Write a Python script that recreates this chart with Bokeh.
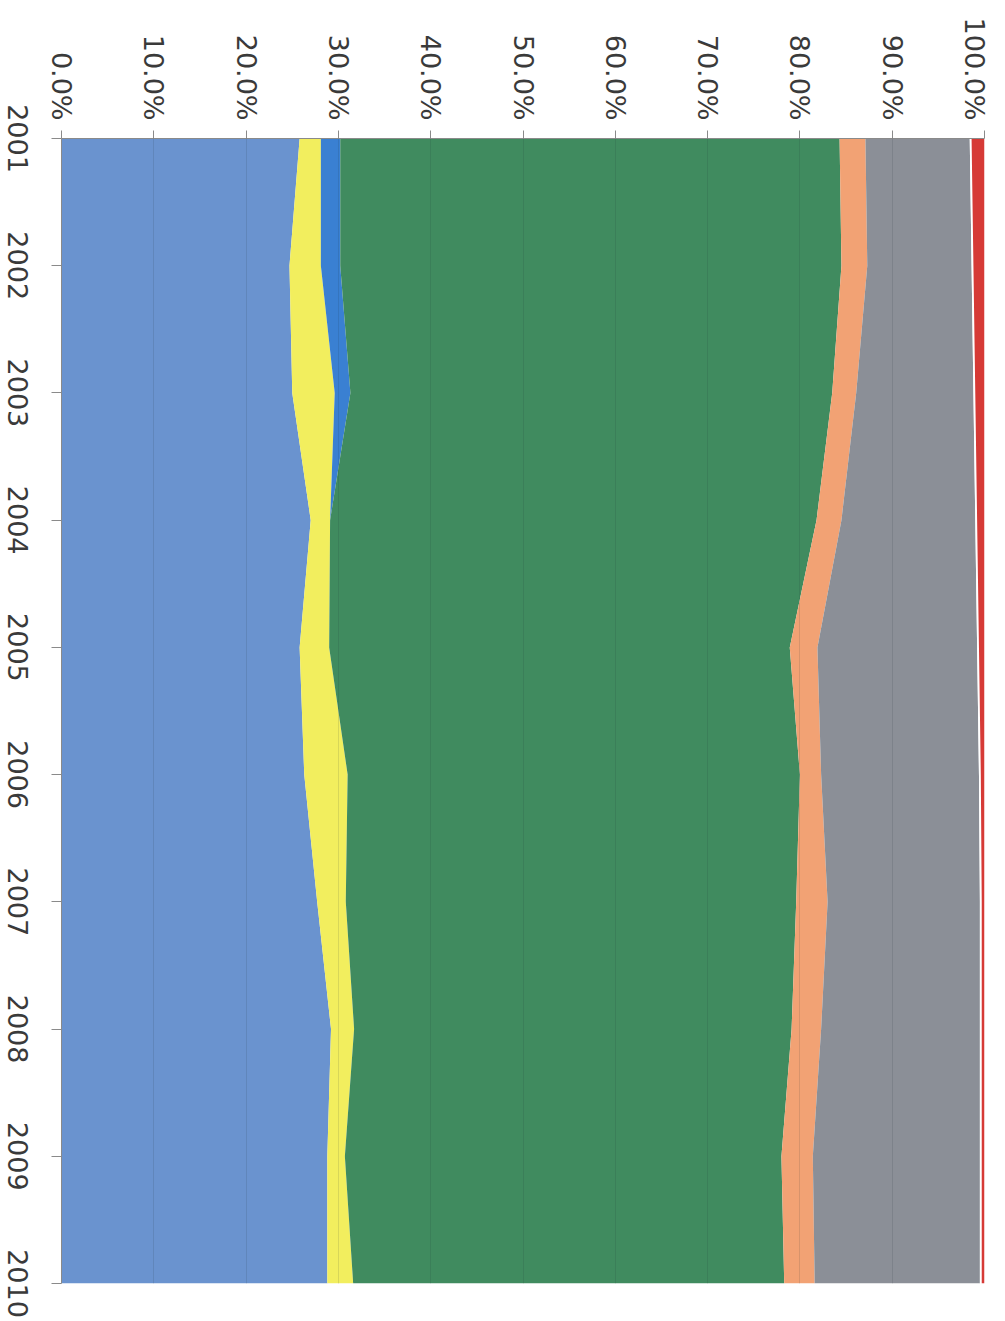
import math
from bokeh.plotting import figure
from bokeh.layouts import row, column
from bokeh.models import ColumnDataSource, Range1d, FixedTicker, PrintfTickFormatter
from bokeh.core.properties import value
from bokeh.embed import file_html
from bokeh.resources import INLINE

years = [2001, 2002, 2003, 2004, 2005, 2006, 2007, 2008, 2009, 2010]
year_labels = ["2001", "2002", "2003", "2004", "2005", "2006", "2007", "2008", "2009", "2010"]
light_blue = [25.8, 24.7, 25.0, 27.0, 25.8, 26.3, 27.7, 29.2, 28.8, 28.8]
yellow = [2.3, 3.4, 4.6, 2.1, 3.2, 4.7, 3.1, 2.5, 1.9, 2.8]
dark_blue = [2.1, 2.1, 1.7, 0.0, 0.0, 0.0, 0.0, 0.0, 0.0, 0.0]
green = [54.1, 54.3, 52.2, 52.7, 49.9, 49.0, 48.8, 47.4, 47.3, 46.7]
orange = [2.8, 2.8, 2.6, 2.7, 3.0, 2.3, 3.4, 3.2, 3.4, 3.3]
gray = [11.3, 11.3, 12.7, 14.5, 17.3, 17.1, 16.5, 17.2, 18.1, 17.9]
gap = [0.2, 0.2, 0.2, 0.2, 0.2, 0.2, 0.2, 0.2, 0.2, 0.2]
red = [1.4, 1.2, 1.0, 0.8, 0.6, 0.4, 0.3, 0.3, 0.3, 0.3]

pct_ticks = [0, 10, 20, 30, 40, 50, 60, 70, 80, 90, 100]

names = ["light_blue", "yellow", "dark_blue", "green", "orange", "gray", "gap", "red"]
colors = ["#6a93cf", "#f2ee5e", "#3a80d2", "#408b5f", "#f2a274", "#8b8f97", "#ffffff", "#d63a36"]

source = ColumnDataSource(dict(year=years, light_blue=light_blue, yellow=yellow,
                               dark_blue=dark_blue, green=green, orange=orange,
                               gray=gray, gap=gap, red=red, label=year_labels))

# layout constants
H = 1305
LABEL_H = 1318
LABEL_W = 40
TOP = 138
BOTTOM = 22
FONT = "DejaVu Sans"
FONT_SIZE = "27px"
TEXT_COLOR = "#3a3a3a"

p = figure(width=989 - LABEL_W, height=H, output_backend="svg", toolbar_location=None,
           x_range=Range1d(0, 100), y_range=Range1d(years[-1], years[0]),
           x_axis_location="above",
           min_border_left=61 - LABEL_W, min_border_top=TOP, min_border_right=5,
           min_border_bottom=BOTTOM)
p.outline_line_color = None

p.harea_stack(names, y="year", color=colors, source=source)

p.xaxis.ticker = FixedTicker(ticks=pct_ticks)
p.xaxis.formatter = PrintfTickFormatter(format="%.1f%%")
p.yaxis.ticker = FixedTicker(ticks=years)
p.yaxis.major_label_overrides = {y: "" for y in years}

for ax in (p.xaxis[0], p.yaxis[0]):
    ax.major_label_orientation = -math.pi / 2
    ax.major_label_text_font = FONT
    ax.major_label_text_font_size = FONT_SIZE
    ax.major_label_text_color = TEXT_COLOR
    ax.axis_line_color = "#8a8a8a"
    ax.major_tick_line_color = "#8a8a8a"
    ax.minor_tick_line_color = None
    ax.major_tick_in = 0

p.xaxis.major_tick_out = 8
p.xaxis.major_label_standoff = 10
p.yaxis.major_tick_out = 10
p.yaxis.major_label_standoff = 0

p.ygrid.visible = False
p.xgrid.ticker = FixedTicker(ticks=pct_ticks)
p.xgrid.grid_line_color = "#1a2a30"
p.xgrid.grid_line_alpha = 0.12
p.xgrid.grid_line_width = 1
p.xgrid.level = "annotation"

# year tick labels (top-to-bottom reading, centred on the ticks) in a narrow side panel
frame_h = H - TOP - BOTTOM
px_per_year = frame_h / (years[-1] - years[0])
lab_top = years[0] - TOP / px_per_year
lab_bottom = years[-1] + (LABEL_H - (H - BOTTOM)) / px_per_year

lp = figure(width=LABEL_W, height=LABEL_H, output_backend="svg", toolbar_location=None,
            x_range=Range1d(0, LABEL_W), y_range=Range1d(lab_bottom, lab_top),
            min_border_left=0, min_border_right=0, min_border_top=0, min_border_bottom=0)
lp.axis.visible = False
lp.grid.visible = False
lp.outline_line_color = None
lp.text(x=17.5, y="year", text="label", source=source, angle=-math.pi / 2,
        text_align="center", text_baseline="middle",
        text_font=value(FONT), text_font_size=FONT_SIZE, text_color=TEXT_COLOR)

layout = row(column(lp), p)

open("out.html", "w").write(file_html(layout, INLINE))
